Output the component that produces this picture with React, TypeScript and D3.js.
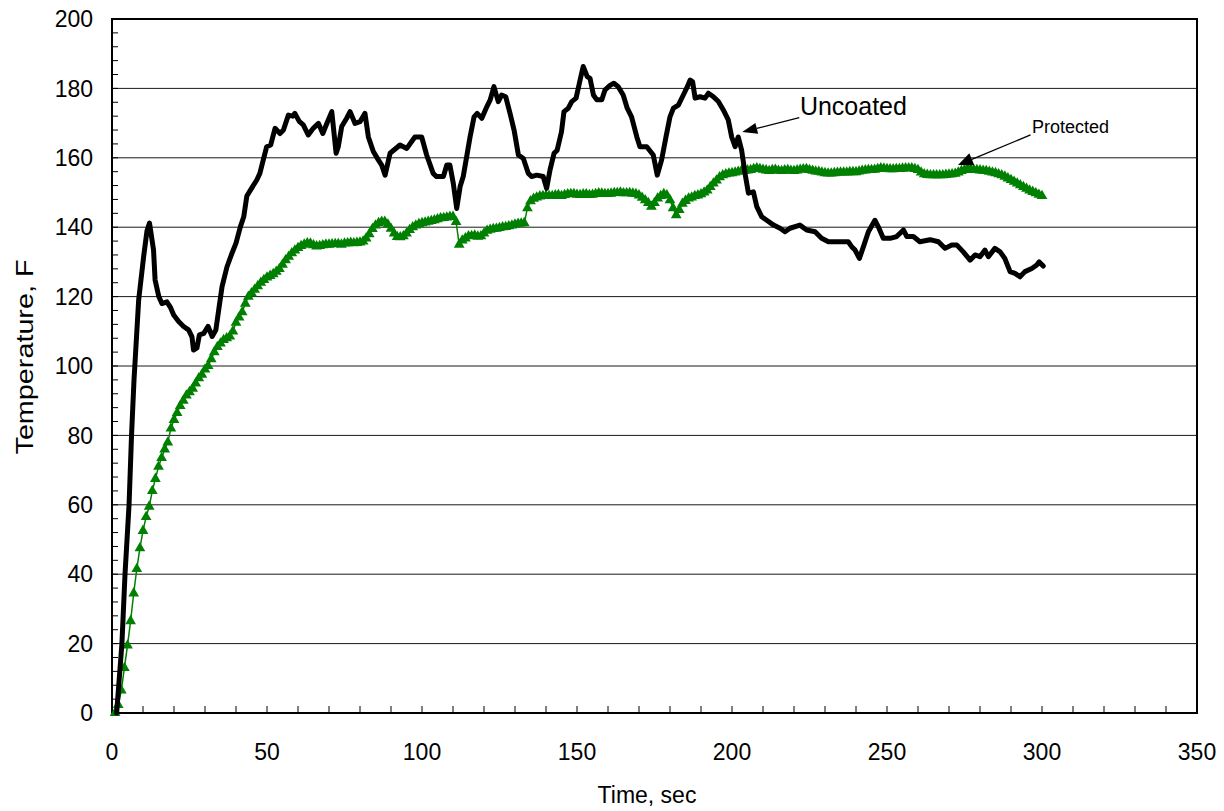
import React from "react";
import * as d3 from "d3";

// Uncoated (black) — [time sec, temperature F]
const uncoated: [number, number][] = [
  [1.5,0],[3.2,20],[4.2,40],[5.5,60],[6.3,80],[7.1,96],[8.6,119],[10.2,131.5],[11.3,139],[12.1,141.2],[13.4,133.4],[13.9,124.8],[15.1,120],[16.1,118],[17.7,118.5],[18.8,117],[19.9,114.7],[21.5,112.8],[23.1,111.4],[24.7,110.4],[25.8,108.4],[26.3,104.6],[27.4,105.2],[28.2,109],[29.6,109.4],[31,111.4],[32.3,108.5],[33.5,110.4],[34.4,116],[35.5,122.9],[37.1,128.6],[38.7,132.5],[40,135.4],[41.4,140.1],[42.5,143],[43.5,149],[45,151.2],[46.7,153.6],[47.7,155.5],[48.8,159.4],[49.9,163.2],[51.2,163.7],[52.6,168.5],[54.2,167],[55.3,168],[56.9,172.3],[58.3,172],[59,172.8],[60.4,170.5],[61.7,169.5],[63.3,166.6],[64.9,168.5],[66.6,169.9],[68,167],[69.3,169.9],[70.9,173.3],[72.3,161.3],[73,163.2],[74.1,169],[75.7,171.4],[76.8,173.3],[78.4,169.9],[80,170.4],[81.6,172.8],[82.7,166],[84.3,161.8],[85.9,159.4],[87,157.9],[88.1,155],[89.7,161.3],[92.9,163.7],[95.1,162.7],[97.7,166],[99.9,166],[101.5,160.8],[103.6,155.5],[104.7,154.6],[106.9,154.6],[108,157.9],[109,157.9],[110.1,152.6],[111.2,145.4],[112.3,151.7],[113.3,154.6],[114.6,161.3],[115.5,166],[116.8,171.8],[117.8,172.8],[119.3,171.4],[120.9,174.7],[122,176.7],[123.2,180.5],[124.6,176.2],[125.7,178.1],[127,177.6],[128.4,172.8],[129.7,168],[131.1,160.8],[132.7,159.8],[134.3,155.5],[135.4,154.6],[137,155],[139.1,154.6],[140.2,151.2],[141.3,156.5],[142.6,161.3],[143.6,162.2],[145,167.5],[145.8,173.3],[147.2,174.3],[148.3,176.2],[149.7,177.2],[151,182.4],[152,186.3],[153.3,183.4],[154.2,182.9],[155.3,178.1],[156.4,176.7],[158,176.7],[159,179.5],[160.4,180.7],[161.9,181.5],[163.3,180.5],[164.9,178.1],[166.2,174.3],[167.6,171.8],[169.3,166],[170.3,163.2],[172.5,163.2],[174.6,160.8],[175.9,155],[177.3,159.4],[178.7,166],[180,171.8],[181.1,174.3],[182.7,175.2],[184.3,178.1],[185.6,180.5],[186.5,182.4],[187.3,181.9],[188.1,177.2],[189.7,177.6],[191.3,177.2],[192.4,178.6],[194,177.6],[195.6,176.2],[197.2,173.8],[198.8,170.9],[199.9,166],[201,163.2],[202,166],[203.1,162.2],[204.2,155.5],[205.3,149.8],[206.9,150.2],[208,145.9],[209.6,143],[211.2,142],[213.4,140.6],[215.5,139.7],[217.1,138.7],[218.7,139.7],[221.9,140.6],[224.1,139.2],[226.8,138.7],[228.9,136.8],[231.1,135.8],[234.8,135.8],[237.5,135.8],[238.6,134.4],[239.7,133.4],[241.1,131],[242.4,134.4],[244,138.7],[246.1,142],[247.2,140.1],[248.8,136.8],[251,136.8],[253.1,137.3],[255.3,139.2],[256.4,137.3],[258.5,137.3],[260.6,135.8],[263.9,136.4],[266.6,135.8],[268.7,133.9],[270.9,134.9],[272.5,134.9],[274.6,132.9],[276.8,130.5],[278.4,132],[280,131.5],[281.6,133.4],[282.7,131.5],[284.8,133.9],[286.5,132.9],[288,131],[289.7,127.2],[291.3,126.7],[292.9,125.7],[294.5,127.2],[296.7,128.1],[298.3,129.1],[299.1,130],[300.4,128.8]
];

// Protected (green triangles) — [time sec, temperature F]
const protectedSeries: [number, number][] = [
  [1,0],[2,2.3],[3,6.5],[4,13],[5,19.5],[6,26.5],[7,34.5],[8,41.5],[9,47.5],[10,52.5],[11,56.5],[12,59.5],[13,64],[14,67.5],[15,71],[16,73.5],[17,76],[18,78],[19,82],[20,84.5],[21,86.5],[22,88.5],[23,90],[24,91.5],[25,92.5],[26,93.5],[27,95],[28,96.5],[29,97.5],[30,99],[31,100],[32,102],[33,104],[34,105.5],[35,106.5],[36,107.5],[37,108],[38,108.5],[39,110],[40,112.5],[41,114],[42,115.5],[43,118],[44,120],[45,121],[46,122],[47,123],[48,124],[49,124.8],[50,125.5],
  [51,126],[52,126.5],[53,127.2],[54,128],[55,129.2],[56,130.5],[57,131.5],[58,132.5],[59,133.3],[60,134],[61,134.6],[62,135],[63,135.4],[64,135.3],[65,134.8],[66,134.5],[67,134.6],[68,134.8],[69,135],[70,135],[71,135.1],[72,135.2],[73,135.2],[74,135],[75,135.3],[76,135.4],[77,135.5],[78,135.4],[79,135.5],[80,135.6],[81,135.9],[82,136.8],[83,138],[84,139.5],[85,140.5],[86,141.2],[87,141.6],[88,141.6],[89,140.8],[90,139.6],[91,138.2],[92,137.2],[93,137.1],[94,137.4],[95,138.2],[96,139.2],[97,140],[98,140.5],[99,140.9],[100,141.2],[101,141.4],[102,141.6],[103,141.8],[104,142],[105,142.3],[106,142.6],[107,142.7],[108,142.8],[109,143],[110,143],[111,141.5],[112,135],[113,136.2],[114,136.8],[115,137.4],[116,137.5],[117,137.6],[118,137.3],[119,137.4],[120,138.2],[121,139],[122,139.3],[123,139.5],[124,139.6],[125,139.8],[126,140],[127,140.1],[128,140.3],[129,140.5],[130,140.8],[131,141],[132,141.1],[133,141.2],[134,145.5],[135,147.5],[136,148.2],[137,148.6],[138,148.9],[139,149],[140,149.1],[141,149],[142,149],[143,149.2],[144,149.3],[145,149],[146,149.3],[147,149.5],[148,149.6],[149,149.6],[150,149.4],[151,149.3],[152,149.5],[153,149.5],[154,149.3],[155,149.4],[156,149.6],[157,149.8],[158,149.7],[159,149.6],[160,149.6],[161,149.7],[162,149.9],[163,149.9],[164,150],[165,149.8],[166,149.8],[167,149.9],[168,149.7],[169,149.6],[170,149.2],[171,148.5],[172,147.8],[173,147],[174,145.9],[175,147],[176,148.3],[177,149],[178,149.6],[179,149.2],[180,147.8],[181,145.5],[182,143.5],[183,145],[184,146.8],[185,147.6],[186,148.3],[187,148.6],[188,149],[189,149.2],[190,149.5],[191,150],[192,150.6],[193,151.6],[194,152.6],[195,153.5],[196,154.4],[197,155],[198,155.3],[199,155.5],[200,155.6],[201,155.8],[202,156],[203,156.2],[204,156.2],[205,156.4],[206,156.5],[207,156.8],[208,157],[209,156.8],[210,156.6],[211,156.4],[212,156.2],[213,156.5],[214,156.6],[215,156.3],[216,156.2],[217,156.4],[218,156.5],[219,156.3],[220,156.2],[221,156.4],[222,156.6],[223,156.7],[224,156.8],[225,156.5],[226,156.3],[227,156.1],[228,156],[229,155.8],[230,155.6],[231,155.5],[232,155.5],[233,155.6],[234,155.7],[235,155.8],[236,155.8],[237,155.8],[238,155.9],[239,155.9],[240,155.9],[241,156.1],[242,156.3],[243,156.4],[244,156.5],[245,156.5],[246,156.6],[247,156.8],[248,157],[249,156.9],[250,156.8],[251,156.7],[252,156.7],[253,156.8],[254,156.8],[255,156.9],[256,157],[257,157],[258,157],[259,156.8],[260,156.5],[261,155.8],[262,155.3],[263,155.1],[264,155],[265,155],[266,155],[267,155],[268,155],[269,155.1],[270,155.2],[271,155.3],[272,155.4],[273,155.8],[274,156.2],[275,156.5],[276,156.8],[277,156.7],[278,156.5],[279,156.5],[280,156.4],[281,156.3],[282,156.2],[283,156],[284,155.8],[285,155.6],[286,155.3],[287,155],[288,154.6],[289,154.1],[290,153.6],[291,153.1],[292,152.6],[293,152.1],[294,151.6],[295,151.1],[296,150.6],[297,150.2],[298,149.8],[299,149.4],[300,149]
];

const xTicks = [0, 50, 100, 150, 200, 250, 300, 350];
const yTicks = [0, 20, 40, 60, 80, 100, 120, 140, 160, 180, 200];
const xMinor = d3.range(0, 351, 10);
const yMinor = d3.range(0, 201, 4);

// annotations: text anchor (t,T), arrow start (t,T), arrow tip (t,T)
const annoUncoated = { label: "Uncoated", text: [221.9, 172.2], from: [221.7, 171.6], tip: [203.3, 167.4] };
const annoProtected = { label: "Protected", text: [296.8, 167.2], from: [296.3, 166.6], tip: [272.9, 157.9] };

const W = 1224, H = 811;
const L = 112, R = 1197, T0 = 19, B = 713;
const FONT = "'Liberation Sans', Arial, sans-serif";

function Arrow({ x1, y1, x2, y2, len, half, sw }: any) {
  const a = Math.atan2(y2 - y1, x2 - x1);
  const bx = x2 - len * Math.cos(a), by = y2 - len * Math.sin(a);
  const px = -Math.sin(a) * half, py = Math.cos(a) * half;
  return (
    <g>
      <line x1={x1} y1={y1} x2={bx} y2={by} stroke="#000" strokeWidth={sw} />
      <polygon points={`${x2},${y2} ${bx + px},${by + py} ${bx - px},${by - py}`} fill="#000" />
    </g>
  );
}

export default function App() {
  const x = d3.scaleLinear().domain([0, 350]).range([L, R]);
  const y = d3.scaleLinear().domain([0, 200]).range([B, T0]);
  const line = d3.line<[number, number]>().x(d => x(d[0])).y(d => y(d[1]));
  const tri = d3.symbol().type(d3.symbolTriangle).size(50)();

  const aU = annoUncoated, aP = annoProtected;
  return (
    <svg width={W} height={H} style={{ position: "absolute", left: 0, top: 0, background: "#fff" }} fontFamily={FONT}>
      <rect x={0} y={0} width={W} height={H} fill="#fff" />
      {yTicks.filter(v => v > 0 && v < 200).map(v => (
        <line key={"g" + v} x1={L} x2={R} y1={y(v)} y2={y(v)} stroke="#1a1a1a" strokeWidth={1} />
      ))}
      {yMinor.map(v => (
        <line key={"ym" + v} x1={L} x2={L + 6} y1={y(v)} y2={y(v)} stroke="#000" strokeWidth={1} />
      ))}
      {xMinor.map(v => (
        <line key={"xm" + v} x1={x(v)} x2={x(v)} y1={B} y2={B - 7} stroke="#000" strokeWidth={1} />
      ))}
      <rect x={L} y={T0} width={R - L} height={B - T0} fill="none" stroke="#000" strokeWidth={2} />

      <path d={line(protectedSeries) || ""} fill="none" stroke="#008000" strokeWidth={1.5} />
      {protectedSeries.map((d, i) => (
        <path key={"p" + i} d={tri || ""} transform={`translate(${x(d[0])},${y(d[1])})`} fill="#008000" />
      ))}
      <path d={line(uncoated) || ""} fill="none" stroke="#000" strokeWidth={5} strokeLinejoin="round" strokeLinecap="round" />

      <text x={x(aU.text[0])} y={y(aU.text[1])} fontSize={25} fill="#000">{aU.label}</text>
      <Arrow x1={x(aU.from[0])} y1={y(aU.from[1])} x2={x(aU.tip[0])} y2={y(aU.tip[1])} len={15} half={5.5} sw={1.3} />
      <text x={x(aP.text[0])} y={y(aP.text[1])} fontSize={18} fill="#000">{aP.label}</text>
      <Arrow x1={x(aP.from[0])} y1={y(aP.from[1])} x2={x(aP.tip[0])} y2={y(aP.tip[1])} len={15} half={6.5} sw={1.3} />

      {yTicks.map(v => (
        <text key={"yl" + v} x={93} y={y(v)} dy="0.36em" textAnchor="end" fontSize={23} fill="#000">{v}</text>
      ))}
      {xTicks.map(v => (
        <text key={"xl" + v} x={x(v)} y={760} textAnchor="middle" fontSize={23} fill="#000">{v}</text>
      ))}
      <text x={647} y={803} textAnchor="middle" fontSize={23} fill="#000">Time, sec</text>
      <text transform="translate(33,357) rotate(-90)" textAnchor="middle" fontSize={24} fill="#000"
        textLength={195} lengthAdjust="spacingAndGlyphs">Temperature, F</text>
    </svg>
  );
}
